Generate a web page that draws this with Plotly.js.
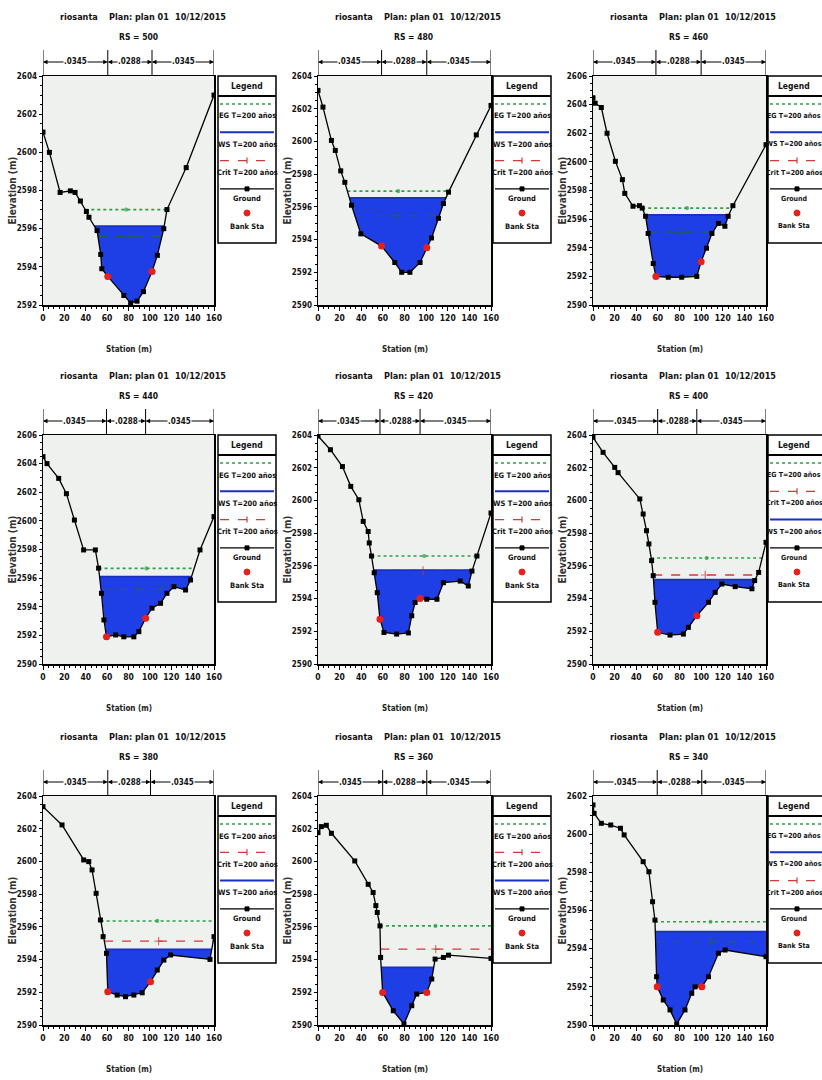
<!DOCTYPE html>
<html><head><meta charset="utf-8">
<script src="https://cdn.plot.ly/plotly-3.0.1.min.js"></script>
<style>body{margin:0;background:#fff}#c{width:822px;height:1080px}</style>
</head><body><div id="c"></div>
<script>
// ---------- DATA ----------
const river = 'riosanta', planText = 'Plan: plan 01', dateText = '10/12/2015';
const rsLabels = ['RS = 500','RS = 480','RS = 460','RS = 440','RS = 420','RS = 400','RS = 380','RS = 360','RS = 340'];
const manningN = ['.0345','.0288','.0345'];
const legendNames = {EG:'EG T=200 años', WS:'WS T=200 años', Crit:'Crit T=200 años', Ground:'Ground', Bank:'Bank Sta'};

const st500 = [0, 6, 16, 25.6, 30, 35, 40.6, 43, 50.6, 54, 55, 60.6, 75.6, 82, 88, 94, 102, 107, 113, 116, 134, 160];
const el500 = [2601.06, 2600.0, 2597.9, 2597.98, 2597.9, 2597.45, 2596.9, 2596.6, 2595.9, 2594.65, 2593.9, 2593.5, 2592.5, 2592.1, 2592.2, 2592.7, 2593.75, 2594.6, 2596.0, 2597.0, 2599.2, 2603.0];
const st480 = [0, 4.6, 12.4, 16, 21, 24.8, 31, 39.6, 58.8, 71, 77.4, 85, 94.4, 100.6, 105, 111.4, 116, 120.7, 146.4, 160];
const el480 = [2603.12, 2602.1, 2600.06, 2599.45, 2598.2, 2597.5, 2596.1, 2594.35, 2593.6, 2592.6, 2592.0, 2592.0, 2592.6, 2593.5, 2594.1, 2595.3, 2596.2, 2596.9, 2600.4, 2602.2];
const st460 = [0, 2, 7.7, 13, 20.7, 27.2, 29.4, 37, 43, 45.5, 48.6, 51, 55.7, 58.2, 69.6, 82, 96, 100, 105, 110, 116, 122, 125, 129.4, 160];
const el460 = [2604.48, 2604.1, 2603.8, 2602.0, 2600.04, 2598.76, 2597.8, 2596.9, 2596.94, 2596.77, 2596.2, 2595.0, 2592.9, 2592.0, 2591.94, 2591.94, 2592.0, 2593.03, 2593.97, 2595.0, 2595.7, 2595.5, 2596.2, 2596.94, 2601.2];
const st440 = [0, 3.75, 14.7, 21.9, 29.4, 38, 49, 52, 54.7, 57, 59.4, 68, 75.6, 85, 89.7, 96, 102, 110, 116, 122.5, 133.4, 138, 146.9, 160];
const el440 = [2604.49, 2604.0, 2602.97, 2601.9, 2600.06, 2597.97, 2597.97, 2596.7, 2594.94, 2593.08, 2591.9, 2592.03, 2591.9, 2591.9, 2592.26, 2593.2, 2593.9, 2594.24, 2594.94, 2595.4, 2595.17, 2595.87, 2597.97, 2600.3];
const st420 = [0, 11.5, 22.6, 30.3, 37.8, 41.8, 46.4, 47.4, 49.5, 52, 54.8, 57.3, 61, 72.7, 83.6, 86.7, 89.8, 94.4, 100.6, 110, 116, 131.5, 139, 142.4, 147, 160];
const el420 = [2603.94, 2603.1, 2602.07, 2600.86, 2600.04, 2598.72, 2598.1, 2597.4, 2596.6, 2595.58, 2594.36, 2592.74, 2591.93, 2591.83, 2591.9, 2592.95, 2593.76, 2594.0, 2593.96, 2593.96, 2594.97, 2595.07, 2594.77, 2595.68, 2596.6, 2599.23];
const st400 = [0, 9.3, 20.1, 23.2, 43.3, 46.4, 49.5, 51.7, 54.2, 55.7, 57.3, 59.8, 71.2, 83.6, 88.2, 96, 106.8, 113, 119.2, 131.5, 147, 149.5, 153.2, 160];
const el400 = [2603.86, 2602.94, 2602.02, 2601.7, 2600.09, 2599.17, 2598.15, 2597.34, 2596.32, 2595.4, 2593.77, 2591.94, 2591.77, 2591.83, 2592.24, 2592.95, 2593.77, 2594.38, 2594.89, 2594.73, 2594.6, 2595.1, 2595.6, 2597.44];
const st380 = [0, 17.8, 38.1, 42.8, 45.9, 49.7, 53.75, 56.25, 59.4, 60.6, 69.4, 77.2, 85, 92.8, 100.6, 106.9, 113.1, 119.4, 156.25, 160];
const el380 = [2603.35, 2602.23, 2600.09, 2599.99, 2599.48, 2598.05, 2596.42, 2595.4, 2594.38, 2592.04, 2591.83, 2591.73, 2591.83, 2591.97, 2592.65, 2593.36, 2593.97, 2594.28, 2594.01, 2595.4];
const st360 = [0, 3.1, 7.7, 12.4, 34, 46.4, 51, 53.5, 54.8, 57.3, 57.9, 59.8, 69.6, 79.5, 86.7, 91.3, 100.6, 105.2, 108.3, 116, 120.7, 160];
const el360 = [2601.76, 2602.13, 2602.21, 2601.72, 2600.03, 2598.6, 2598.1, 2597.3, 2596.88, 2596.06, 2594.13, 2591.99, 2590.87, 2590.06, 2591.18, 2591.89, 2591.99, 2592.81, 2594.03, 2594.13, 2594.27, 2594.07];
const st340 = [0, 1, 7.7, 16.4, 25.4, 28.8, 46.4, 51.7, 55.1, 57.3, 58.8, 59.4, 65, 71.2, 77.4, 85.1, 91.3, 94.4, 100.6, 106.8, 116, 122.2, 160];
const el340 = [2601.53, 2601.09, 2600.57, 2600.48, 2600.31, 2599.96, 2598.56, 2598.03, 2596.46, 2595.5, 2592.53, 2592.0, 2591.31, 2590.79, 2590.05, 2590.79, 2591.66, 2592.0, 2592.0, 2592.53, 2593.76, 2593.93, 2593.58];

const wsEl   = [2596.13, 2596.55, 2596.30, 2596.10, 2595.74, 2595.16, 2594.62, 2593.52, 2594.89];
const egEl   = [2597.00, 2596.96, 2596.77, 2596.68, 2596.60, 2596.48, 2596.36, 2596.06, 2595.41];
const critEl = [2595.60, 2595.47, 2595.09, 2595.22, 2595.72, 2595.44, 2595.13, 2594.64, 2594.37];
const bankLSt = [60.6, 58.8, 58.2, 59.4, 57.3, 59.8, 60.6, 59.8, 59.4];
const bankLEl = [2593.5, 2593.6, 2592.0, 2591.9, 2592.74, 2591.94, 2592.04, 2591.99, 2592.0];
const bankRSt = [102, 100.6, 100, 96, 94.4, 96, 100.6, 100.6, 100.6];
const bankREl = [2593.75, 2593.5, 2593.03, 2593.2, 2594.0, 2592.95, 2592.65, 2591.99, 2592.0];
const yMin = [2592, 2590, 2590, 2590, 2590, 2590, 2590, 2590, 2590];
const yMax = [2604, 2604, 2606, 2606, 2604, 2604, 2604, 2604, 2602];
const legendOrder = [
  ['EG','WS','Crit'],['EG','WS','Crit'],['EG','WS','Crit'],
  ['EG','WS','Crit'],['EG','WS','Crit'],['EG','Crit','WS'],
  ['EG','Crit','WS'],['EG','Crit','WS'],['EG','WS','Crit']];

const stations = [st500, st480, st460, st440, st420, st400, st380, st360, st340];
const elevs = [el500, el480, el460, el440, el420, el400, el380, el360, el340];

// ---------- STYLE / LAYOUT ----------
const FONT = 'DejaVu Sans Condensed, Liberation Sans Narrow, Liberation Sans, Arial, sans-serif';
const W = 822, H = 1080;
const px = v => v / W;
const py = v => 1 - v / H;
const colL = [43, 318, 593], colR = [214, 491, 766];
const rowT = [76, 435, 796], rowB = [305, 664, 1025];
const legL = [218, 493, 768], legW = 58;
const C = {EG:'#2e9e48', WS:'#1b2fc0', Crit:'#d03a3a', CritSub:'#27604a', fill:'#1f3fe6', ground:'#000'};

function span(st, el, level) {
  let im = 0;
  for (let k = 1; k < el.length; k++) if (el[k] < el[im]) im = k;
  let iL = 0, xl = st[0];
  for (let k = im; k > 0; k--) {
    if (el[k-1] >= level) { iL = k; xl = st[k-1] + (el[k-1]-level)/(el[k-1]-el[k])*(st[k]-st[k-1]); break; }
  }
  let n = el.length - 1, iR = n, xr = st[n];
  for (let k = im; k < n; k++) {
    if (el[k+1] >= level) { iR = k; xr = st[k] + (level-el[k])/(el[k+1]-el[k])*(st[k+1]-st[k]); break; }
  }
  return {xl, xr, iL, iR};
}

const data = [];
const layout = {
  width: W, height: H, margin: {l:0, r:0, t:0, b:0},
  paper_bgcolor: '#ffffff', plot_bgcolor: '#eff1ef', showlegend: false,
  font: {family: FONT, color: '#111'}, shapes: [], annotations: [], hovermode: false
};
const ann = a => layout.annotations.push(Object.assign({showarrow:false, xanchor:'center', yanchor:'middle', font:{family:FONT, size:9, color:'#111'}}, a));

for (let i = 0; i < 9; i++) {
  const r = Math.floor(i/3), c = i % 3;
  const L = colL[c], R = colR[c], T = rowT[r], B = rowB[r];
  const sfx = i === 0 ? '' : String(i+1);
  const xa = 'x' + sfx, ya = 'y' + sfx;
  const st = stations[i], el = elevs[i];

  layout['xaxis' + sfx] = {
    domain: [px(L), px(R)], anchor: ya, range: [0, 160], tick0: 0, dtick: 20,
    ticks: 'outside', ticklen: 4, tickwidth: 1, tickcolor: '#000',
    minor: {dtick: 5, ticks: 'outside', ticklen: 2, tickcolor: '#000'},
    showline: true, mirror: true, linecolor: '#000', linewidth: 1.5,
    showgrid: false, zeroline: false,
    tickfont: {family: FONT, size: 8.5, color: '#111', weight: 'bold'}
  };
  layout['yaxis' + sfx] = {
    domain: [py(B), py(T)], anchor: xa, range: [yMin[i], yMax[i]], tick0: 2590, dtick: 2,
    ticks: 'outside', ticklen: 3, tickwidth: 1, tickcolor: '#000',
    minor: {dtick: 0.5, ticks: 'outside', ticklen: 2, tickcolor: '#000'},
    showline: true, mirror: true, linecolor: '#000', linewidth: 1.5,
    showgrid: false, zeroline: false, tickformat: 'd',
    tickfont: {family: FONT, size: 8, color: '#111', weight: 'bold'}
  };

  // water fill
  const w = span(st, el, wsEl[i]);
  const fx = [w.xl].concat(st.slice(w.iL, w.iR+1), [w.xr]);
  const fy = [wsEl[i]].concat(el.slice(w.iL, w.iR+1), [wsEl[i]]);
  data.push({x: fx, y: fy, xaxis: xa, yaxis: ya, mode: 'lines', fill: 'toself',
    fillcolor: C.fill, line: {width: 0, color: C.fill}, hoverinfo: 'skip'});

  const levelTrace = (lvl, color, dash, width, sym, msize) => {
    const s = span(st, el, lvl);
    return {x: [s.xl, (s.xl+s.xr)/2, s.xr], y: [lvl, lvl, lvl], xaxis: xa, yaxis: ya,
      mode: 'lines+markers', line: {color, dash, width},
      marker: {symbol: sym, size: [0, msize, 0], color, line: {color, width: 1.2}}, hoverinfo: 'skip'};
  };
  data.push(levelTrace(egEl[i], C.EG, 'dot', 1.6, 'circle', 3));
  const critColor = critEl[i] < wsEl[i] - 0.05 ? C.CritSub : C.Crit;
  data.push(levelTrace(critEl[i], critColor, 'dash', 1.3, 'cross-thin', 6));
  data.push(levelTrace(wsEl[i], C.WS, 'solid', 1.8, 'circle', 0));

  // ground
  data.push({x: st, y: el, xaxis: xa, yaxis: ya, mode: 'lines+markers',
    line: {color: C.ground, width: 1.3}, marker: {symbol: 'square', size: 5, color: '#000'}, hoverinfo: 'skip'});
  // bank stations
  data.push({x: [bankLSt[i], bankRSt[i]], y: [bankLEl[i], bankREl[i]], xaxis: xa, yaxis: ya,
    mode: 'markers', marker: {symbol: 'circle', size: 7, color: '#e8201c'}, hoverinfo: 'skip'});

  // titles
  const tf = {family: FONT, size: 9, color: '#111'};
  ann({text: '<b>' + river + '</b>', x: px(L+36), y: py(T-59), xref: 'paper', yref: 'paper', font: tf});
  ann({text: '<b>' + planText + '</b>', x: px(L+96), y: py(T-59), xref: 'paper', yref: 'paper', font: tf});
  ann({text: '<b>' + dateText + '</b>', x: px(L+157), y: py(T-59), xref: 'paper', yref: 'paper', font: tf});
  ann({text: '<b>' + rsLabels[i] + '</b>', x: px(L+95), y: py(T-39), xref: 'paper', yref: 'paper', font: {family: FONT, size: 8.5, color: '#111'}});
  ann({text: '<b>Station (m)</b>', x: px((L+R)/2), y: py(B+44), xref: 'paper', yref: 'paper', font: {family: FONT, size: 8, color: '#222'}});
  ann({text: '<b>Elevation (m)</b>', x: px(L-31), y: py((T+B)/2), xref: 'paper', yref: 'paper', textangle: -90, font: {family: FONT, size: 10, color: '#333'}});

  // Manning n bar
  const bounds = [0, bankLSt[i], bankRSt[i], 160];
  bounds.forEach(b => layout.shapes.push({type: 'line', xref: xa, yref: 'paper', x0: b, x1: b, y0: py(T-26), y1: py(T), line: {color: '#000', width: 1}}));
  for (let z = 0; z < 3; z++) {
    const a = bounds[z], b = bounds[z+1], m = (a+b)/2;
    [a, b].forEach(e => layout.annotations.push({text: '', x: e, y: py(T-14), xref: xa, yref: 'paper',
      ax: m, ay: 0, axref: xa, ayref: 'pixel', showarrow: true, arrowhead: 2, arrowsize: 0.9, arrowwidth: 1, arrowcolor: '#000', standoff: 0}));
  }
  for (let z = 0; z < 3; z++) {
    const m = (bounds[z] + bounds[z+1]) / 2;
    ann({text: '<b>' + manningN[z] + '</b>', x: m, y: py(T-14), xref: xa, yref: 'paper', bgcolor: '#ffffff', borderpad: 0, font: {family: FONT, size: 8, color: '#111'}});
  }

  // legend box
  const lx0 = legL[c], lx1 = legL[c] + legW;
  const lc = lx0 + legW/2;
  const tc = c === 2 ? lx0 + 26 : lc;          // label centre (kept inside the page for the cut-off right column)
  const lfs = c === 2 ? 7 : 7.5;
  layout.shapes.push({type: 'rect', xref: 'paper', yref: 'paper', x0: px(lx0), x1: px(lx1), y0: py(T), y1: py(T+167), line: {color: '#000', width: 1.5}, fillcolor: '#ffffff', layer: 'below'});
  layout.shapes.push({type: 'line', xref: 'paper', yref: 'paper', x0: px(lx0), x1: px(lx1), y0: py(T+20), y1: py(T+20), line: {color: '#000', width: 2}});
  ann({text: '<b>Legend</b>', x: px(tc), y: py(T+10), xref: 'paper', yref: 'paper', font: {family: FONT, size: 8.5, color: '#111'}});
  const order = legendOrder[i].concat(['Ground']);
  const style = {EG: [C.EG, 'dot', 1.6], WS: [C.WS, 'solid', 2], Crit: [C.Crit, 'dash', 1.2], Ground: ['#000', 'solid', 1.3]};
  order.forEach((k, j) => {
    const ly = T + 28 + j * 28.3;
    const s = style[k];
    layout.shapes.push({type: 'line', xref: 'paper', yref: 'paper', x0: px(lx0+2), x1: px(lx1-2), y0: py(ly), y1: py(ly), line: {color: s[0], dash: s[1], width: s[2]}});
    if (k === 'Crit') {
      layout.shapes.push({type: 'line', xref: 'paper', yref: 'paper', x0: px(lc), x1: px(lc), y0: py(ly-3), y1: py(ly+3), line: {color: C.Crit, width: 1.2}});
    }
    if (k === 'Ground') {
      layout.shapes.push({type: 'rect', xref: 'paper', yref: 'paper', x0: px(lc-2), x1: px(lc+2), y0: py(ly-2), y1: py(ly+2), line: {color: '#000', width: 1}, fillcolor: '#000'});
    }
    ann({text: '<b>' + legendNames[k] + '</b>', x: px(tc), y: py(ly + (k === 'Ground' ? 10 : 12)), xref: 'paper', yref: 'paper', font: {family: FONT, size: lfs, color: '#111'}});
  });
  layout.shapes.push({type: 'circle', xref: 'paper', yref: 'paper', x0: px(lc-3), x1: px(lc+3), y0: py(T+134), y1: py(T+140), line: {color: '#e8201c', width: 1}, fillcolor: '#e8201c'});
  ann({text: '<b>' + legendNames.Bank + '</b>', x: px(tc), y: py(T+150), xref: 'paper', yref: 'paper', font: {family: FONT, size: lfs, color: '#111'}});
}

Plotly.newPlot('c', data, layout, {staticPlot: true, displayModeBar: false});
</script>
</body></html>
